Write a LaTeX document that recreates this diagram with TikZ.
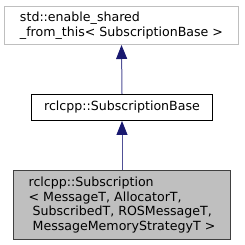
\documentclass[tikz,border=0pt]{standalone}
\usepackage{fontspec}
\setmainfont{DejaVu Sans}
\usetikzlibrary{arrows.meta}
\definecolor{navy}{RGB}{25,25,112}
\definecolor{edgeline}{RGB}{80,80,150}
\definecolor{boxgray}{RGB}{191,191,191}
\definecolor{lightborder}{RGB}{191,191,191}
\definecolor{darkborder}{RGB}{64,64,64}
\begin{document}
\begin{tikzpicture}[x=1pt,y=1pt,
  every node/.style={font=\fontsize{12.6}{14.8}\selectfont, inner sep=0pt, align=left},
  boxtop/.style={draw=lightborder, fill=white, line width=1pt, minimum width=234pt, minimum height=38pt},
  boxmid/.style={draw=black, fill=white, line width=1pt, minimum width=181pt, minimum height=26pt},
  boxcur/.style={draw=darkborder, fill=boxgray, line width=1pt, minimum width=217pt, minimum height=69pt},
  inherit/.style={draw=edgeline, line width=1pt, -{Triangle[length=14pt,width=11pt,fill=navy,color=navy]}}
]
\useasboundingbox (0,0) rectangle (244,-245);
\node[boxtop] (top) at (121.5,-25.5) {std::enable\_shared\\\_from\_this< SubscriptionBase >};
\node[boxmid] (mid) at (122,-107.5) {rclcpp::SubscriptionBase};
\node[boxcur] (cur) at (122,-205) {rclcpp::Subscription\\< MessageT, AllocatorT,\\ \ SubscribedT, ROSMessageT,\\ \ MessageMemoryStrategyT >};
\draw[inherit] (mid.north) -- (top.south);
\draw[inherit] (cur.north) -- (mid.south);
\end{tikzpicture}
\end{document}
